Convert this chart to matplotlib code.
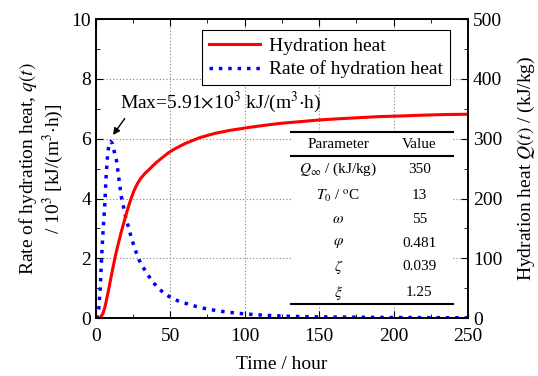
import numpy as np
import matplotlib
matplotlib.use('Agg')
import matplotlib.pyplot as plt
from matplotlib.patches import Rectangle
from matplotlib.lines import Line2D

plt.rcParams['font.family'] = ['Liberation Serif', 'DejaVu Serif']
plt.rcParams['mathtext.fontset'] = 'stix'

# cumulative hydration heat Q(t), kJ/kg
t_heat = [0, 2, 3, 4, 5, 6, 7, 8, 9, 10, 11, 12, 13, 14, 15, 17, 19, 20, 22,
          24, 26, 28, 30, 33, 36, 38, 41, 45, 49, 53, 60, 70, 80, 90, 103, 115,
          125, 137, 148, 160, 175, 190, 204, 220, 235, 250]
Q_heat = [0, 0, 1, 4, 9, 17, 28, 40, 52, 65, 78, 90, 102, 113, 123, 143, 161,
          170, 187, 202, 215, 225, 233, 242, 249, 254, 261, 269, 277, 283, 292,
          302, 309, 314, 319, 323, 326, 328.5, 331, 333, 335, 337, 338, 339.5,
          340.5, 341]

# rate of hydration heat q(t), 10^3 kJ/(m^3 h)
t_rate = [0, 1, 2, 3, 4, 5, 6, 7, 8, 9, 10, 11, 12, 14, 17, 20, 23, 26, 29,
          33, 37, 41, 47, 55, 65, 75, 88, 100, 115, 130, 150, 175, 200, 225, 250]
q_rate = [0, 0.05, 0.3, 1.0, 2.1, 3.0, 3.75, 4.8, 5.5, 5.85, 5.91, 5.85, 5.65,
          5.25, 4.1, 3.4, 2.85, 2.35, 1.95, 1.6, 1.3, 1.05, 0.78, 0.58, 0.42,
          0.3, 0.2, 0.14, 0.09, 0.06, 0.04, 0.03, 0.02, 0.015, 0.01]
q_max = 5.91

param_names = [r'$Q_{\infty}$ / (kJ/kg)', r'$T_0$ / $^{\rm o}$C', r'$\omega$',
               r'$\varphi$', r'$\zeta$', r'$\xi$']
param_values = ['350', '13', '55', '0.481', '0.039', '1.25']

fig = plt.figure(figsize=(5.38, 3.76), dpi=100)
ax = fig.add_axes([0.178, 0.154, 0.692, 0.795])
ax2 = ax.twinx()

rate_line, = ax.plot(t_rate, q_rate, color='blue', lw=2.5, dashes=(1.0, 1.7),
                     label='Rate of hydration heat')
heat_line, = ax2.plot(t_heat, Q_heat, color='red', lw=2.2,
                      solid_joinstyle='round', label='Hydration heat')

ax.set_xlim(0, 250)
ax.set_ylim(0, 10)
ax2.set_ylim(0, 500)
ax.set_xticks(np.arange(0, 251, 50))
ax.set_xticks(np.arange(0, 251, 25), minor=True)
ax.set_yticks(np.arange(0, 11, 2))
ax.set_yticks(np.arange(0, 11, 1), minor=True)
ax2.set_yticks(np.arange(0, 501, 100))
ax2.set_yticks(np.arange(0, 501, 50), minor=True)

ax.grid(True, which='major', color='#808080', lw=0.8, linestyle=(0, (1, 2)))
ax.tick_params(which='both', direction='in', top=True, right=False, labelsize=14)
ax.tick_params(which='major', length=5)
ax.tick_params(which='minor', length=3)
ax.tick_params(axis='x', pad=7)
ax2.tick_params(which='both', direction='in', labelsize=14)
ax2.tick_params(which='major', length=5)
ax2.tick_params(which='minor', length=3)
for a in (ax, ax2):
    for s in a.spines.values():
        s.set_linewidth(1.2)

ax.set_xlabel('Time / hour', fontsize=14, labelpad=8)
ax.set_ylabel('Rate of hydration heat, $q(t)$\n/ 10$^3$ [kJ/(m$^3$$\\cdot$h)]',
              fontsize=14, linespacing=1.1)
ax2.set_ylabel('Hydration heat $Q(t)$ / (kJ/kg)', fontsize=14, labelpad=10)

# peak label
ax2.annotate('', xy=(10.5, 6.05 * 50), xytext=(20.5, 6.75 * 50),
             arrowprops=dict(arrowstyle='-|>', color='black', lw=1,
                             mutation_scale=10))
ax2.text(16, 7.2 * 50, 'Max=%.2f$\\times$10$^3$ kJ/(m$^3$$\\cdot$h)' % q_max,
         fontsize=14, ha='left', va='center')

leg = ax2.legend(handles=[heat_line, rate_line], loc='upper right',
                 bbox_to_anchor=(0.952, 0.963), borderaxespad=0, fontsize=14,
                 fancybox=False, framealpha=1, edgecolor='black',
                 handlelength=2.6, borderpad=0.35, labelspacing=0.3,
                 handletextpad=0.5)
leg.get_frame().set_linewidth(0.8)
leg.set_zorder(10)

# parameter table
x0, x1 = 0.525, 0.960
y_top, y_head, y_bot = 0.622, 0.542, 0.047
ax2.add_patch(Rectangle((x0, y_bot), x1 - x0, y_top - y_bot, transform=ax2.transAxes,
                        facecolor='white', edgecolor='none', zorder=5))
for yy in (y_top, y_head, y_bot):
    ax2.add_line(Line2D([x0, x1], [yy, yy], transform=ax2.transAxes,
                        color='black', lw=1.5, zorder=6))
col_p, col_v = 0.651, 0.869
ax2.text(col_p, 0.582, 'Parameter', transform=ax2.transAxes, fontsize=11,
         ha='center', va='center', zorder=7)
ax2.text(col_v, 0.582, 'Value', transform=ax2.transAxes, fontsize=11,
         ha='center', va='center', zorder=7)
row_y = [0.498, 0.411, 0.331, 0.251, 0.171, 0.084]
for yy, name, val in zip(row_y, param_names, param_values):
    ax2.text(col_p, yy, name, transform=ax2.transAxes, fontsize=11,
             ha='center', va='center', zorder=7)
    ax2.text(col_v, yy, val, transform=ax2.transAxes, fontsize=11,
             ha='center', va='center', zorder=7)

fig.savefig('out.png', dpi=100)
